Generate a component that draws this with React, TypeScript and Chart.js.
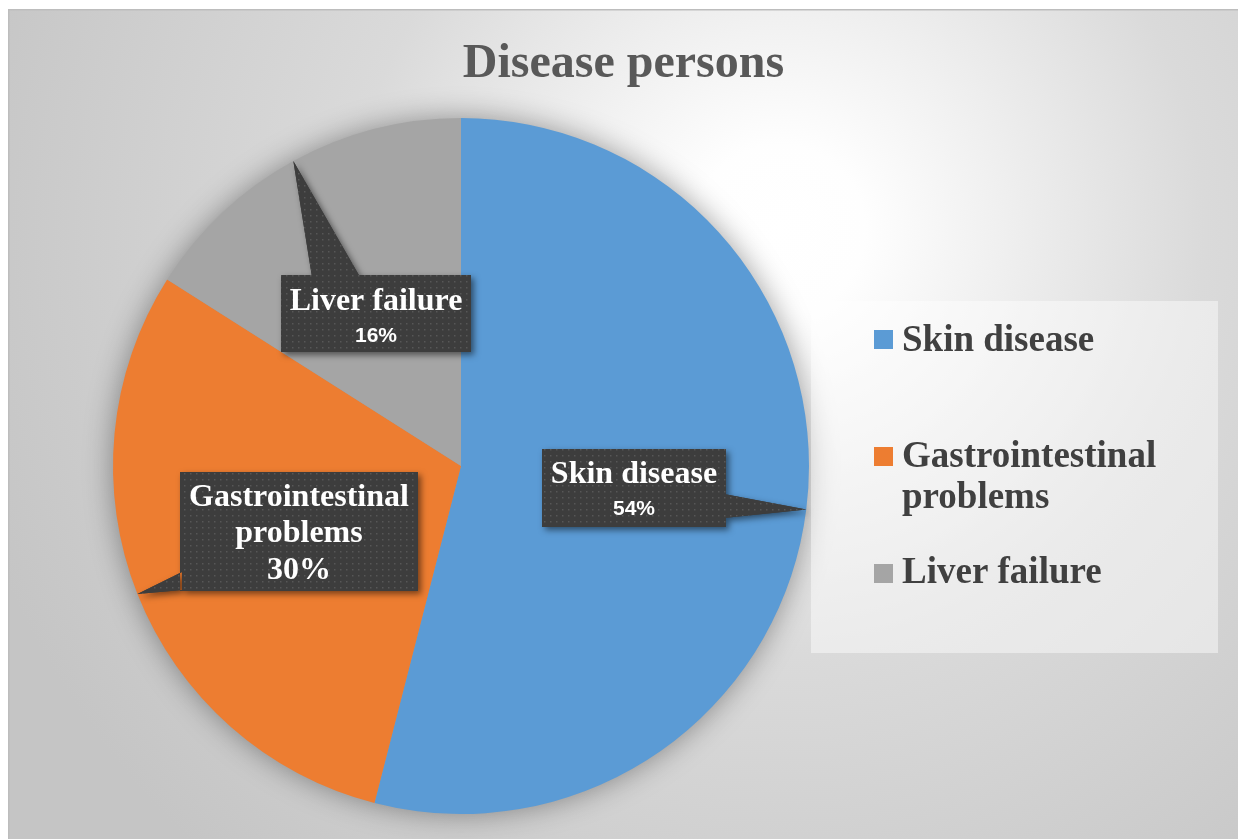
import { useEffect, useRef } from "react";
import { Chart, registerables } from "chart.js";

Chart.register(...registerables);

// ---- data ----
const categories = ["Skin disease", "Gastrointestinal problems", "Liver failure"];
const shares = [54, 30, 16];
const sliceColors = ["#5B9BD5", "#ED7D31", "#A5A5A5"];
const chartTitle = "Disease persons";
// wrapped text for the legend and the callouts
const legendLines = [["Skin disease"], ["Gastrointestinal", "problems"], ["Liver failure"]];
const calloutLines = [["Skin disease"], ["Gastrointestinal", "problems"], ["Liver failure"]];

// ---- layout / style ----
const W = 1230;
const H = 830;
const SERIF = "'Liberation Serif', 'Times New Roman', serif";
const SANS = "'Liberation Sans', Arial, sans-serif";

type Callout = {
  box: [number, number, number, number];
  base: [[number, number], [number, number]];
  lineY: number[];
  pctY: number;
  pctSerif: boolean;
};

const calloutLayout: Callout[] = [
  { box: [534, 440, 184, 78], base: [[716, 485], [716, 509]], lineY: [474], pctY: 506, pctSerif: false },
  { box: [172, 463, 238, 119], base: [[174, 563], [174, 581]], lineY: [497, 533], pctY: 570, pctSerif: true },
  { box: [273, 266, 190, 77], base: [[304, 268], [352, 268]], lineY: [301], pctY: 333, pctSerif: false },
];

const legendBox = { x: 803, y: 292, w: 407, h: 352 };
const legendSwatchX = 866;
const legendSwatch = 19;
const legendTextX = 894;
const legendSwatchY = [321, 438, 555];
const legendBaselines = [[342], [458, 499], [574]];

const backdrop = {
  id: "backdrop",
  beforeDraw(chart: Chart) {
    const ctx = chart.ctx;
    ctx.save();
    const g = ctx.createRadialGradient(772, 221, 0, 772, 221, 850);
    g.addColorStop(0, "#ffffff");
    g.addColorStop(0.1, "#fefefe");
    g.addColorStop(0.5, "#dadada");
    g.addColorStop(1, "#c5c5c5");
    ctx.fillStyle = g;
    ctx.fillRect(0, 0, W, H);
    ctx.strokeStyle = "#bdbdbd";
    ctx.lineWidth = 1.5;
    ctx.strokeRect(0.75, 0.75, W + 4, H + 4);

    // title
    ctx.fillStyle = "#595959";
    ctx.font = `bold 48px ${SERIF}`;
    ctx.textAlign = "center";
    ctx.textBaseline = "alphabetic";
    ctx.fillText(chartTitle, 615.5, 68);
    ctx.restore();
  },
};

const pieShadow = {
  id: "pieShadow",
  beforeDatasetsDraw(chart: Chart) {
    const arc: any = chart.getDatasetMeta(0).data[0];
    if (!arc) return;
    const { x, y, outerRadius } = arc.getProps(["x", "y", "outerRadius"], true);
    const ctx = chart.ctx;
    ctx.save();
    ctx.shadowColor = "rgba(0,0,0,0.4)";
    ctx.shadowBlur = 30;
    ctx.fillStyle = "#9a9a9a";
    ctx.beginPath();
    ctx.arc(x, y, outerRadius - 1, 0, Math.PI * 2);
    ctx.fill();
    ctx.restore();
  },
};

function makeDots(ctx: CanvasRenderingContext2D) {
  const c = document.createElement("canvas");
  c.width = 6;
  c.height = 6;
  const p = c.getContext("2d")!;
  p.fillStyle = "#3d3d3d";
  p.fillRect(0, 0, 6, 6);
  p.fillStyle = "#575757";
  p.fillRect(2, 2, 1.5, 1.5);
  return ctx.createPattern(c, "repeat")!;
}

const callouts = {
  id: "callouts",
  afterDatasetsDraw(chart: Chart) {
    const ctx = chart.ctx;
    const meta = chart.getDatasetMeta(0);
    const values = chart.data.datasets[0].data as number[];
    const total = values.reduce((a, b) => a + b, 0);
    const dots = makeDots(ctx);
    meta.data.forEach((el: any, i: number) => {
      const L = calloutLayout[i];
      const { x, y, startAngle, endAngle, outerRadius } = el.getProps(
        ["x", "y", "startAngle", "endAngle", "outerRadius"],
        true
      );
      const mid = (startAngle + endAngle) / 2;
      const tipX = x + Math.cos(mid) * outerRadius;
      const tipY = y + Math.sin(mid) * outerRadius;
      const [bx, by, bw, bh] = L.box;

      ctx.save();
      ctx.beginPath();
      ctx.rect(bx, by, bw, bh);
      ctx.moveTo(L.base[0][0], L.base[0][1]);
      ctx.lineTo(tipX, tipY);
      ctx.lineTo(L.base[1][0], L.base[1][1]);
      ctx.closePath();
      ctx.shadowColor = "rgba(0,0,0,0.5)";
      ctx.shadowBlur = 6;
      ctx.shadowOffsetX = 3;
      ctx.shadowOffsetY = 3;
      ctx.fillStyle = "#3d3d3d";
      ctx.fill();
      ctx.shadowColor = "transparent";
      ctx.fillStyle = dots;
      ctx.fill();

      const cx = bx + bw / 2;
      ctx.fillStyle = "#ffffff";
      ctx.textAlign = "center";
      ctx.textBaseline = "alphabetic";
      ctx.font = `bold 32px ${SERIF}`;
      calloutLines[i].forEach((t, k) => ctx.fillText(t, cx, L.lineY[k]));
      const pct = Math.round((values[i] / total) * 100) + "%";
      ctx.font = L.pctSerif ? `bold 32px ${SERIF}` : `bold 21px ${SANS}`;
      ctx.fillText(pct, cx, L.pctY);
      ctx.restore();
    });
  },
};

const legendPanel = {
  id: "legendPanel",
  afterDraw(chart: Chart) {
    const ctx = chart.ctx;
    const colors = chart.data.datasets[0].backgroundColor as string[];
    ctx.save();
    ctx.fillStyle = "rgba(255,255,255,0.45)";
    ctx.fillRect(legendBox.x, legendBox.y, legendBox.w, legendBox.h);
    ctx.font = `bold 37px ${SERIF}`;
    ctx.textAlign = "left";
    ctx.textBaseline = "alphabetic";
    legendLines.forEach((lines, i) => {
      ctx.fillStyle = colors[i];
      ctx.fillRect(legendSwatchX, legendSwatchY[i], legendSwatch, legendSwatch);
      ctx.fillStyle = "#404040";
      lines.forEach((t, k) => ctx.fillText(t, legendTextX, legendBaselines[i][k]));
    });
    ctx.restore();
  },
};

export default function App() {
  const ref = useRef<HTMLCanvasElement>(null);
  useEffect(() => {
    const canvas = ref.current!;
    const chart = new Chart(canvas, {
      type: "pie",
      data: {
        labels: categories,
        datasets: [{ data: shares, backgroundColor: sliceColors, borderWidth: 0 }],
      },
      options: {
        responsive: false,
        animation: false,
        events: [],
        layout: { padding: { left: 105, top: 109, right: 429, bottom: 25 } },
        plugins: {
          legend: { display: false },
          tooltip: { enabled: false },
          title: { display: false },
        },
      },
      plugins: [backdrop, pieShadow, callouts, legendPanel],
    });
    return () => chart.destroy();
  }, []);

  return (
    <div style={{ position: "fixed", inset: 0, overflow: "hidden", background: "#ffffff" }}>
      <canvas
        ref={ref}
        width={W}
        height={H}
        style={{ position: "absolute", left: 8, top: 9, width: W, height: H }}
      />
    </div>
  );
}
